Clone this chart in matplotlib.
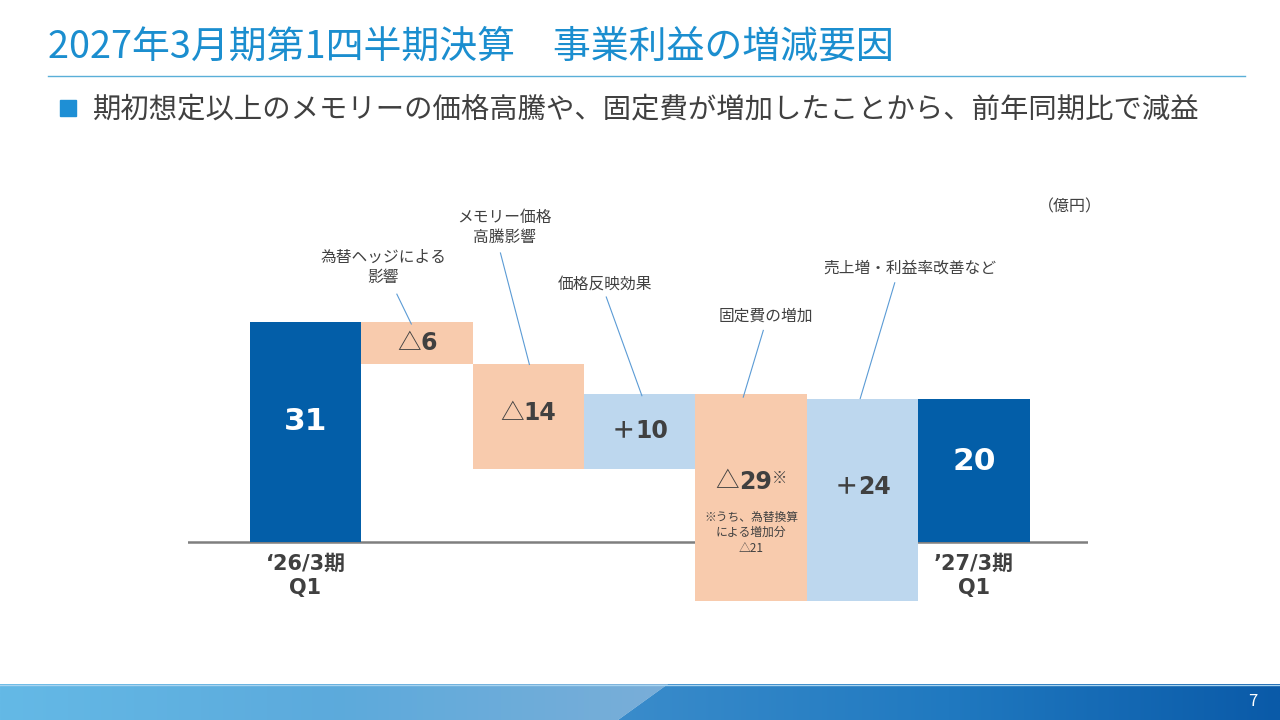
import numpy as np
import matplotlib
matplotlib.use("Agg")
import matplotlib.pyplot as plt
from matplotlib.patches import Rectangle, Polygon
from matplotlib.colors import LinearSegmentedColormap
from matplotlib.offsetbox import TextArea, HPacker, AnnotationBbox

plt.rcParams['font.family'] = ['Noto Sans CJK JP', 'DejaVu Sans']

# === データ ===
step_names = ["'26/3期 Q1", "為替ヘッジによる\n影響", "メモリー価格\n高騰影響", "価格反映効果",
              "固定費の増加", "売上増・利益率改善など", "'27/3期 Q1"]
start_total = 31.0
# 各ステップ後の累積水準
levels_after = [25.0, 10.3, 20.9, -8.3, 20.2]
end_total = 20.2
kinds = ["total", "neg", "neg", "pos", "neg", "pos", "total"]
label_signs = ["", "△", "△", "＋", "△", "＋", ""]
label_nums = ["31", "6", "14", "10", "29", "24", "20"]
xtick_labels = ["‘26/3期\nQ1", "’27/3期\nQ1"]
note_text = "※うち、為替換算\nによる増加分\n△21"

title = "2027年3月期第1四半期決算　事業利益の増減要因"
subtitle = "期初想定以上のメモリーの価格高騰や、固定費が増加したことから、前年同期比で減益"
unit_text = "（億円）"

colors = {"total": "#035EA8", "neg": "#F8CBAD", "pos": "#BDD7EE"}
text_gray = "#404040"
num_font = ['DejaVu Sans', 'Noto Sans CJK JP']
cjk_font = ['Noto Sans CJK JP', 'DejaVu Sans']

fig = plt.figure(figsize=(12.8, 7.2), dpi=100)

# --- スライド背景（ピクセル座標）---
bg = fig.add_axes([0, 0, 1, 1])
bg.set_xlim(0, 1280)
bg.set_ylim(720, 0)
bg.axis('off')

bg.text(48, 47, title, fontsize=27.3, color="#1B8ECF", ha='left', va='center')
bg.plot([48, 1245], [76, 76], color="#5AAFD8", lw=1)
bg.add_patch(Rectangle((60, 100), 16, 16, color="#1E8FD5"))
bg.text(93, 109, subtitle, fontsize=20.4, color=text_gray, ha='left', va='center')

# フッター
grad = np.linspace(0, 1, 256).reshape(1, -1)
left_cmap = LinearSegmentedColormap.from_list("l", ["#64B9E6", "#5CAADC", "#7AAED8"])
right_cmap = LinearSegmentedColormap.from_list("r", ["#3A8CCB", "#2079C0", "#0A5AA8"])
im1 = bg.imshow(grad, cmap=left_cmap, extent=[0, 668, 720, 684], aspect='auto')
im1.set_clip_path(Polygon([(0, 684), (668, 684), (618, 720), (0, 720)], transform=bg.transData))
im2 = bg.imshow(grad, cmap=right_cmap, extent=[618, 1280, 720, 684], aspect='auto')
im2.set_clip_path(Polygon([(668, 684), (1280, 684), (1280, 720), (618, 720)], transform=bg.transData))
bg.plot([0, 1280], [684.5, 684.5], color="#A8D4F0", lw=1)
bg.set_xlim(0, 1280)
bg.set_ylim(720, 0)
bg.text(1253, 702, "7", fontsize=12, color="white", ha='center', va='center')

# --- ウォーターフォール ---
ax = fig.add_axes([188 / 1280, 80 / 720, 900 / 1280, 490 / 720])
ax.set_xlim(-1.055, 7.025)
ax.set_ylim(-13.8, 55.2)
ax.axis('off')

x = np.arange(len(step_names))
prev = [start_total] + levels_after
bottoms, heights = [], []
for i, k in enumerate(kinds):
    if i == 0:
        bottoms.append(0); heights.append(start_total)
    elif i == len(kinds) - 1:
        bottoms.append(0); heights.append(end_total)
    else:
        lo = min(prev[i - 1], prev[i]); hi = max(prev[i - 1], prev[i])
        bottoms.append(lo); heights.append(hi - lo)

ax.axhline(0, color="#7F7F7F", lw=1.8, zorder=1)
ax.bar(x, heights, bottom=bottoms, width=1.0, color=[colors[k] for k in kinds],
       edgecolor='none', zorder=2)

# 値ラベル（記号＋数字）
label_y = [16.9, 28.0, 18.1, 15.7, 8.4, 7.8, 11.3]
for i, k in enumerate(kinds):
    if k == "total":
        parts = [TextArea(label_nums[i], textprops=dict(fontsize=22.5, fontweight='bold',
                                                        color='white', family=num_font))]
    else:
        sign_w = 'normal' if label_signs[i] == "△" else 'bold'
        parts = [TextArea(label_signs[i], textprops=dict(fontsize=17, fontweight=sign_w,
                                                         color=text_gray, family=cjk_font)),
                 TextArea(label_nums[i], textprops=dict(fontsize=17, fontweight='bold',
                                                        color=text_gray, family=num_font))]
        if i == 4:
            parts.append(TextArea("※", textprops=dict(fontsize=11, fontweight='bold',
                                                      color=text_gray, family=cjk_font)))
    pack = HPacker(children=parts, align='top' if i == 4 else 'baseline', pad=0, sep=0)
    ab = AnnotationBbox(pack, (x[i], label_y[i]), xycoords='data', frameon=False,
                        box_alignment=(0.5, 0.5), pad=0, zorder=3)
    ax.add_artist(ab)

ax.text(x[4], 1.3, note_text, fontsize=8.5, color=text_gray, ha='center', va='center',
        linespacing=1.25, zorder=3)

# 期の軸ラベル
for xi, lab in zip([x[0], x[-1]], xtick_labels):
    ax.text(xi, -4.8, lab, fontsize=15, fontweight='bold', color=text_gray,
            ha='center', va='center', linespacing=1.3, family=num_font)

# 吹き出し（説明と引き出し線）
callouts = [
    (1, (0.70, 38.7), (-0.18, 34.9), (-0.05, 30.7)),
    (2, (1.79, 44.3), (-0.25, 40.7), (0.01, 25.0)),
    (3, (2.69, 36.3), (-0.30, 34.5), (0.02, 20.6)),
    (4, (4.13, 31.8), (0.11, 29.8), (-0.07, 20.4)),
    (5, (5.43, 38.6), (0.29, 36.5), (-0.02, 20.2)),
]
for i, txt_xy, p0, p1 in callouts:
    ax.text(txt_xy[0], txt_xy[1], step_names[i], fontsize=11.3, color=text_gray,
            ha='center', va='center', linespacing=1.25)
    ax.plot([x[i] + p0[0], x[i] + p1[0]], [p0[1], p1[1]], color="#5B9BD5", lw=0.8, zorder=3)

ax.text(6.86, 47.2, unit_text, fontsize=11.5, color=text_gray, ha='center', va='center')

fig.savefig("out.png", dpi=100)
